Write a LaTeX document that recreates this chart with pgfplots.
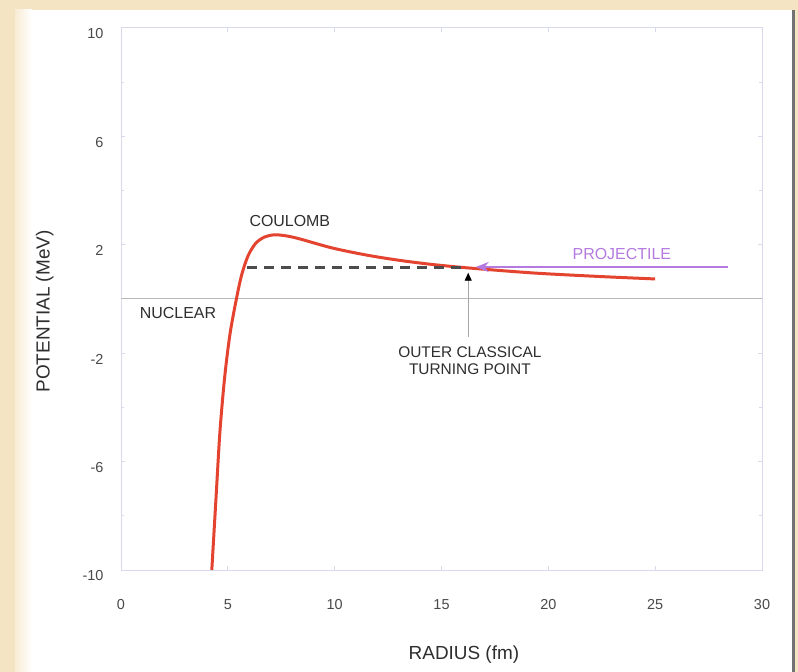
\documentclass[border=0pt]{standalone}
\usepackage{pgfplots}
\pgfplotsset{compat=1.18}
\usepackage{fontspec}
\setmainfont{Liberation Sans}
\usetikzlibrary{arrows.meta}
\definecolor{parch}{HTML}{F5E4C3}
\definecolor{framec}{HTML}{D9D9EE}
\definecolor{curvec}{HTML}{E4432F}
\definecolor{projc}{HTML}{B47AE0}
\definecolor{ticklab}{HTML}{4A4A4A}
\definecolor{txt}{HTML}{2E2E2E}
\begin{document}
\begin{tikzpicture}
\useasboundingbox (0,0) rectangle (798bp,672bp);
\fill[parch] (0,0) rectangle (798bp,672bp);
\fill[white] (15bp,0) rectangle (792bp,662bp);
\fill[black!55] (792bp,0) rectangle (795bp,662bp);
\shade[left color=parch!70, right color=white] (15bp,0) rectangle (32bp,662bp);
\begin{axis}[
  scale only axis, width=641bp, height=542bp,
  at={(121bp,102bp)}, anchor=south west,
  xmin=0, xmax=30, ymin=-10, ymax=10,
  xtick={0,5,...,30}, ytick={-10,-6,-2,2,6,10},
  minor ytick={-8,-4,0,4,8},
  axis line style={framec, line width=1pt},
  tick style={framec, line width=1pt},
  major tick length=4bp, minor tick length=3bp,
  ticklabel style={font=\fontsize{14.5}{16}\selectfont, text=ticklab},
  /pgf/number format/assume math mode=true,
  xticklabel style={yshift=-26bp},
  yticklabel style={xshift=-14bp, yshift=-6bp},
  xlabel={RADIUS (fm)}, ylabel={POTENTIAL (MeV)},
  label style={font=\fontsize{19}{22}\selectfont, text=txt},
  xlabel style={at={(axis description cs:0.535,-0.157)}, anchor=center},
  ylabel style={at={(axis description cs:-0.119,0.477)}, anchor=center},
  clip=false,
]
\addplot[black!28, line width=1pt] coordinates {(0,0) (30,0)};
\addplot[curvec, line width=3pt, smooth] coordinates {
 (4.25,-10) (4.45,-7.3) (4.63,-4.9) (4.85,-2.9) (5.1,-1.3) (5.4,0)
 (5.65,0.9) (5.95,1.6) (6.3,2.05) (6.7,2.28) (7.2,2.37) (7.8,2.32) (8.4,2.21)
 (9.9,1.88) (11.5,1.62) (13,1.43) (14.5,1.28) (16.2,1.15) (19.3,0.96)
 (22.4,0.83) (25,0.74)};
\addplot[black!70, line width=2.2pt, dash pattern=on 10bp off 7bp] coordinates {(5.9,1.16) (16.1,1.16)};
\addplot[projc, line width=2.8pt, -{Stealth[length=13bp,width=10bp]}] coordinates {(28.4,1.18) (16.6,1.18)};
\addplot[black!35, line width=0.9pt, -{Triangle[length=8bp,width=7bp,color=black]}] coordinates {(16.25,-1.4) (16.25,0.97)};
\node[font=\fontsize{16}{18}\selectfont, text=txt] at (axis cs:7.9,2.87) {COULOMB};
\node[font=\fontsize{16}{18}\selectfont, text=txt] at (axis cs:2.67,-0.52) {NUCLEAR};
\node[font=\fontsize{16}{18}\selectfont, text=projc] at (axis cs:23.44,1.66) {PROJECTILE};
\node[font=\fontsize{15.5}{17}\selectfont, text=txt, align=center] at (axis cs:16.33,-2.27) {OUTER CLASSICAL\\TURNING POINT};
\end{axis}
\end{tikzpicture}
\end{document}
